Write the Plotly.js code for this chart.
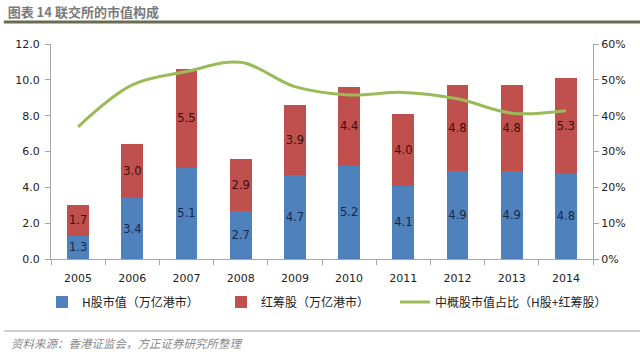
<!DOCTYPE html>
<html>
<head>
<meta charset="utf-8">
<script src="https://cdn.plot.ly/plotly-3.0.1.min.js"></script>
<style>html,body{margin:0;padding:0;background:#fff;}#chart{width:640px;height:357px;}</style>
</head>
<body>
<div id="chart"></div>
<script>
const years = ['2005','2006','2007','2008','2009','2010','2011','2012','2013','2014'];
const hShares = [1.3, 3.4, 5.1, 2.7, 4.7, 5.2, 4.1, 4.9, 4.9, 4.8];
const redChips = [1.7, 3.0, 5.5, 2.9, 3.9, 4.4, 4.0, 4.8, 4.8, 5.3];
const sharePct = [0.369, 0.486, 0.523, 0.549, 0.481, 0.458, 0.465, 0.447, 0.407, 0.414];
const leftTicks = [0, 2, 4, 6, 8, 10, 12];
const rightTicks = [0, 0.1, 0.2, 0.3, 0.4, 0.5, 0.6];

const cjk = '"Noto Sans CJK SC", "DejaVu Sans", sans-serif';
const num = '"DejaVu Sans", "Noto Sans", sans-serif';

const traces = [
  {
    type: 'bar', name: 'H股市值（万亿港市）', x: years, y: hShares, legend: 'legend',
    marker: {color: '#4F81BD'}, width: 0.4,
    text: hShares.map(v => v.toFixed(1)), textposition: 'inside', insidetextanchor: 'middle',
    textangle: 0, constraintext: 'none',
    textfont: {family: num, size: 11.5, color: '#17284a'}, hoverinfo: 'none'
  },
  {
    type: 'bar', name: '红筹股（万亿港市）', x: years, y: redChips, legend: 'legend2',
    marker: {color: '#C0504D'}, width: 0.4,
    text: redChips.map(v => v.toFixed(1)), textposition: 'inside', insidetextanchor: 'middle',
    textangle: 0, constraintext: 'none',
    textfont: {family: num, size: 11.5, color: '#3a0e0e'}, hoverinfo: 'none'
  },
  {
    type: 'scatter', mode: 'lines', name: '中概股市值占比（H股+红筹股）', x: years, y: sharePct,
    yaxis: 'y2', legend: 'legend3',
    line: {color: '#9BBB59', width: 3, shape: 'spline', smoothing: 1}, hoverinfo: 'none'
  }
];

const legendBase = {
  orientation: 'h', xanchor: 'left', y: -0.2, yanchor: 'middle',
  font: {family: cjk, size: 12, color: '#222'}, itemwidth: 30, bgcolor: 'rgba(0,0,0,0)'
};

const layout = {
  width: 640, height: 357,
  margin: {l: 51, r: 47, t: 44, b: 98},
  paper_bgcolor: '#fff', plot_bgcolor: '#fff',
  barmode: 'stack',
  showlegend: true,
  title: {
    text: '图表 14 联交所的市值构成', xref: 'container', yref: 'container',
    x: 0.012, xanchor: 'left', y: 0.965, yanchor: 'middle',
    font: {family: cjk, size: 13, color: '#7a7a7a', weight: 'bold'}
  },
  xaxis: {
    type: 'category', showgrid: false, zeroline: false,
    showline: true, linecolor: '#a6a6a6', linewidth: 1,
    ticks: 'outside', tickson: 'boundaries', ticklen: 5, tickcolor: '#a6a6a6',
    ticklabelstandoff: 9,
    tickfont: {family: num, size: 11, color: '#222'}, fixedrange: true
  },
  yaxis: {
    range: [0, 12], tickvals: leftTicks, ticktext: leftTicks.map(v => v.toFixed(1)),
    showgrid: false, zeroline: false, showline: true, linecolor: '#a6a6a6',
    ticks: 'outside', ticklen: 5, tickcolor: '#a6a6a6', ticklabelstandoff: 3,
    tickfont: {family: num, size: 11, color: '#222'}, fixedrange: true
  },
  yaxis2: {
    range: [0, 0.6], tickvals: rightTicks, ticktext: rightTicks.map(v => Math.round(v * 100) + '%'),
    overlaying: 'y', side: 'right', showgrid: false, zeroline: false,
    showline: true, linecolor: '#a6a6a6', ticks: 'outside', ticklen: 5, tickcolor: '#a6a6a6',
    tickfont: {family: num, size: 11, color: '#222'}, fixedrange: true
  },
  legend: Object.assign({}, legendBase, {x: -0.0166}),
  legend2: Object.assign({}, legendBase, {x: 0.3137}),
  legend3: Object.assign({}, legendBase, {x: 0.6347}),
  shapes: [
    {type: 'line', xref: 'paper', yref: 'paper', x0: -0.087, x1: 1.087, y0: 1.102, y1: 1.102,
     line: {color: '#6b6b52', width: 3}},
    {type: 'line', xref: 'paper', yref: 'paper', x0: -0.087, x1: 1.087, y0: -0.335, y1: -0.335,
     line: {color: '#9a9a9a', width: 1}}
  ],
  annotations: [
    {text: '<i>资料来源：香港证监会，方正证券研究所整理</i>', xref: 'paper', yref: 'paper',
     x: -0.078, xanchor: 'left', y: -0.39, yanchor: 'middle', showarrow: false,
     font: {family: cjk, size: 11.5, color: '#8a8a8a'}}
  ]
};

Plotly.newPlot('chart', traces, layout, {displayModeBar: false, staticPlot: true});
</script>
</body>
</html>
